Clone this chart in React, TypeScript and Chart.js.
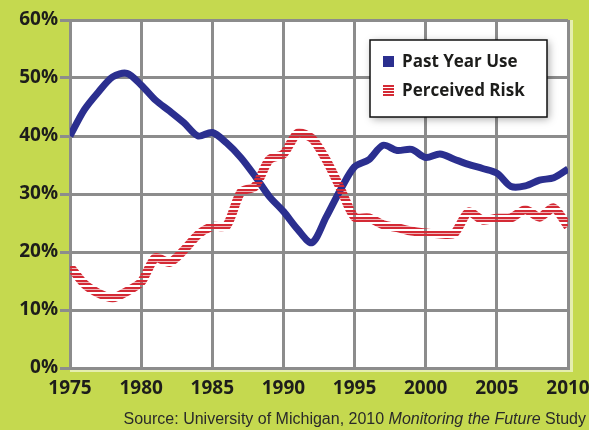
import React, { useEffect, useRef } from 'react';
import { Chart, registerables } from 'chart.js';

Chart.register(...registerables);

const years = [
  1975, 1976, 1977, 1978, 1979, 1980, 1981, 1982, 1983, 1984, 1985, 1986,
  1987, 1988, 1989, 1990, 1991, 1992, 1993, 1994, 1995, 1996, 1997, 1998,
  1999, 2000, 2001, 2002, 2003, 2004, 2005, 2006, 2007, 2008, 2009, 2010,
];

const pastYearUse = [
  40.0, 44.5, 47.6, 50.2, 50.8, 48.8, 46.2, 44.3, 42.3, 40.0, 40.6, 38.8,
  36.3, 33.1, 29.6, 27.0, 23.9, 21.6, 26.0, 30.7, 34.7, 35.9, 38.4, 37.5,
  37.7, 36.3, 36.9, 36.0, 35.1, 34.4, 33.6, 31.3, 31.4, 32.4, 32.8, 34.3,
];

const perceivedRisk = [
  17.5, 14.5, 12.9, 12.1, 13.2, 14.8, 19.0, 18.2, 20.3, 23.0, 24.4, 24.5,
  30.3, 31.3, 35.9, 36.9, 40.5, 39.6, 35.9, 31.0, 26.0, 25.9, 24.7, 24.2,
  23.6, 23.3, 23.1, 23.2, 26.9, 25.5, 25.8, 25.9, 27.3, 26.0, 27.6, 24.4,
];

const seriesLabels = ['Past Year Use', 'Perceived Risk'];
const yMin = 0;
const yMax = 60;
const yStep = 10;
const xMin = 1975;
const xMax = 2010;
const xStep = 5;
const sourceLead = 'Source: University of Michigan, 2010 ';
const sourceTitle = 'Monitoring the Future';
const sourceTail = ' Study';

const BLUE = '#2b2f8f';
const RED = '#d42a35';
const GRID = '#8c8c8c';
const GREEN = '#c5d94f';
const TEXT = '#1d1d1b';
const FONT = '"Open Sans", "DejaVu Sans", sans-serif';

function makeStripePattern(ctx: CanvasRenderingContext2D): CanvasPattern | string {
  const c = document.createElement('canvas');
  c.width = 1;
  c.height = 7;
  const p = c.getContext('2d');
  if (!p) return RED;
  p.fillStyle = RED;
  p.fillRect(0, 0, 1, 2);
  p.fillRect(0, 3, 1, 2);
  p.fillStyle = 'rgba(212,42,53,0.35)';
  p.fillRect(0, 2, 1, 1);
  const pat = ctx.createPattern(c, 'repeat');
  return pat || RED;
}

const plotBgPlugin = {
  id: 'plotBg',
  beforeDraw(chart: any) {
    const { ctx, chartArea: a } = chart;
    ctx.save();
    ctx.fillStyle = 'rgba(255,255,255,0.55)';
    ctx.fillRect(a.left, a.top, a.right - a.left + 5, a.bottom - a.top + 4);
    ctx.fillStyle = '#ffffff';
    ctx.fillRect(a.left, a.top, a.right - a.left, a.bottom - a.top);
    ctx.restore();
  },
};

const boxLegendPlugin = {
  id: 'boxLegend',
  afterDraw(chart: any) {
    const { ctx } = chart;
    const x = 370;
    const y = 40;
    const w = 177;
    const h = 77;
    ctx.save();
    ctx.shadowColor = 'rgba(0,0,0,0.35)';
    ctx.shadowBlur = 8;
    ctx.shadowOffsetX = 2;
    ctx.shadowOffsetY = 2;
    ctx.fillStyle = '#ffffff';
    ctx.fillRect(x, y, w, h);
    ctx.shadowColor = 'transparent';
    ctx.strokeStyle = '#111111';
    ctx.lineWidth = 1.5;
    ctx.strokeRect(x, y, w, h);

    const items = chart.data.datasets
      .map((d: any) => d)
      .sort((a: any, b: any) => a.legendIndex - b.legendIndex);
    ctx.font = `bold 17px ${FONT}`;
    ctx.textBaseline = 'middle';
    ctx.fillStyle = TEXT;
    items.forEach((d: any, i: number) => {
      const cy = y + 22 + i * 29;
      const sx = x + 13;
      const sy = cy - 6;
      if (d.legendStriped) {
        ctx.fillStyle = RED;
        for (let k = 0; k < 4; k++) ctx.fillRect(sx, sy + k * 3, 11, 2);
      } else {
        ctx.fillStyle = BLUE;
        ctx.fillRect(sx, sy, 11, 11);
      }
      ctx.fillStyle = TEXT;
      ctx.fillText(d.label, x + 32, cy);
    });
    ctx.restore();
  },
};

export default function App() {
  const canvasRef = useRef<HTMLCanvasElement | null>(null);

  useEffect(() => {
    const canvas = canvasRef.current;
    if (!canvas) return;
    const ctx = canvas.getContext('2d');
    if (!ctx) return;
    const stripe = makeStripePattern(ctx);

    const chart = new Chart(ctx, {
      type: 'line',
      data: {
        datasets: [
          {
            label: seriesLabels[1],
            data: years.map((yr, i) => ({ x: yr, y: perceivedRisk[i] })),
            borderColor: stripe as any,
            borderWidth: 9,
            pointRadius: 0,
            tension: 0.25,
            fill: false,
            borderJoinStyle: 'round',
            legendIndex: 1,
            legendStriped: true,
          } as any,
          {
            label: seriesLabels[0],
            data: years.map((yr, i) => ({ x: yr, y: pastYearUse[i] })),
            borderColor: BLUE,
            borderWidth: 7,
            pointRadius: 0,
            tension: 0.3,
            fill: false,
            borderJoinStyle: 'round',
            legendIndex: 0,
          } as any,
        ],
      },
      options: {
        animation: false,
        responsive: false,
        maintainAspectRatio: false,
        layout: { padding: { left: 0, right: 21, top: 20, bottom: 0 } },
        plugins: {
          legend: { display: false },
          tooltip: { enabled: false },
        },
        scales: {
          x: {
            type: 'linear',
            min: xMin,
            max: xMax,
            ticks: {
              stepSize: xStep,
              color: TEXT,
              font: { family: FONT, size: 19, weight: 'bold' },
              padding: 9,
              callback: (v: any) => String(v),
              maxRotation: 0,
            },
            grid: { color: GRID, lineWidth: 3, drawTicks: false },
            border: { color: GRID, width: 3 },
            afterFit: (s: any) => {
              s.height = 62;
              s.paddingLeft = 0;
              s.paddingRight = 0;
            },
          },
          y: {
            min: yMin,
            max: yMax,
            ticks: {
              stepSize: yStep,
              color: TEXT,
              font: { family: FONT, size: 19, weight: 'bold' },
              padding: 2,
              callback: (v: any) => `${v}%`,
            },
            grid: { color: GRID, lineWidth: 3, tickLength: 10 },
            border: { color: GRID, width: 3 },
            afterFit: (s: any) => {
              s.width = 70;
            },
          },
        },
      } as any,
      plugins: [plotBgPlugin, boxLegendPlugin],
    });

    return () => chart.destroy();
  }, []);

  return (
    <div
      style={{
        position: 'absolute',
        left: 0,
        top: 0,
        width: 589,
        height: 430,
        background: GREEN,
        overflow: 'hidden',
      }}
    >
      <canvas ref={canvasRef} width={589} height={430} style={{ display: 'block' }} />
      <div
        style={{
          position: 'absolute',
          right: 3,
          top: 410,
          fontFamily: '"Liberation Sans", Arial, sans-serif',
          fontSize: 16,
          color: '#2a2a2a',
          whiteSpace: 'nowrap',
          lineHeight: '18px',
        }}
      >
        {sourceLead}
        <i>{sourceTitle}</i>
        {sourceTail}
      </div>
    </div>
  );
}
